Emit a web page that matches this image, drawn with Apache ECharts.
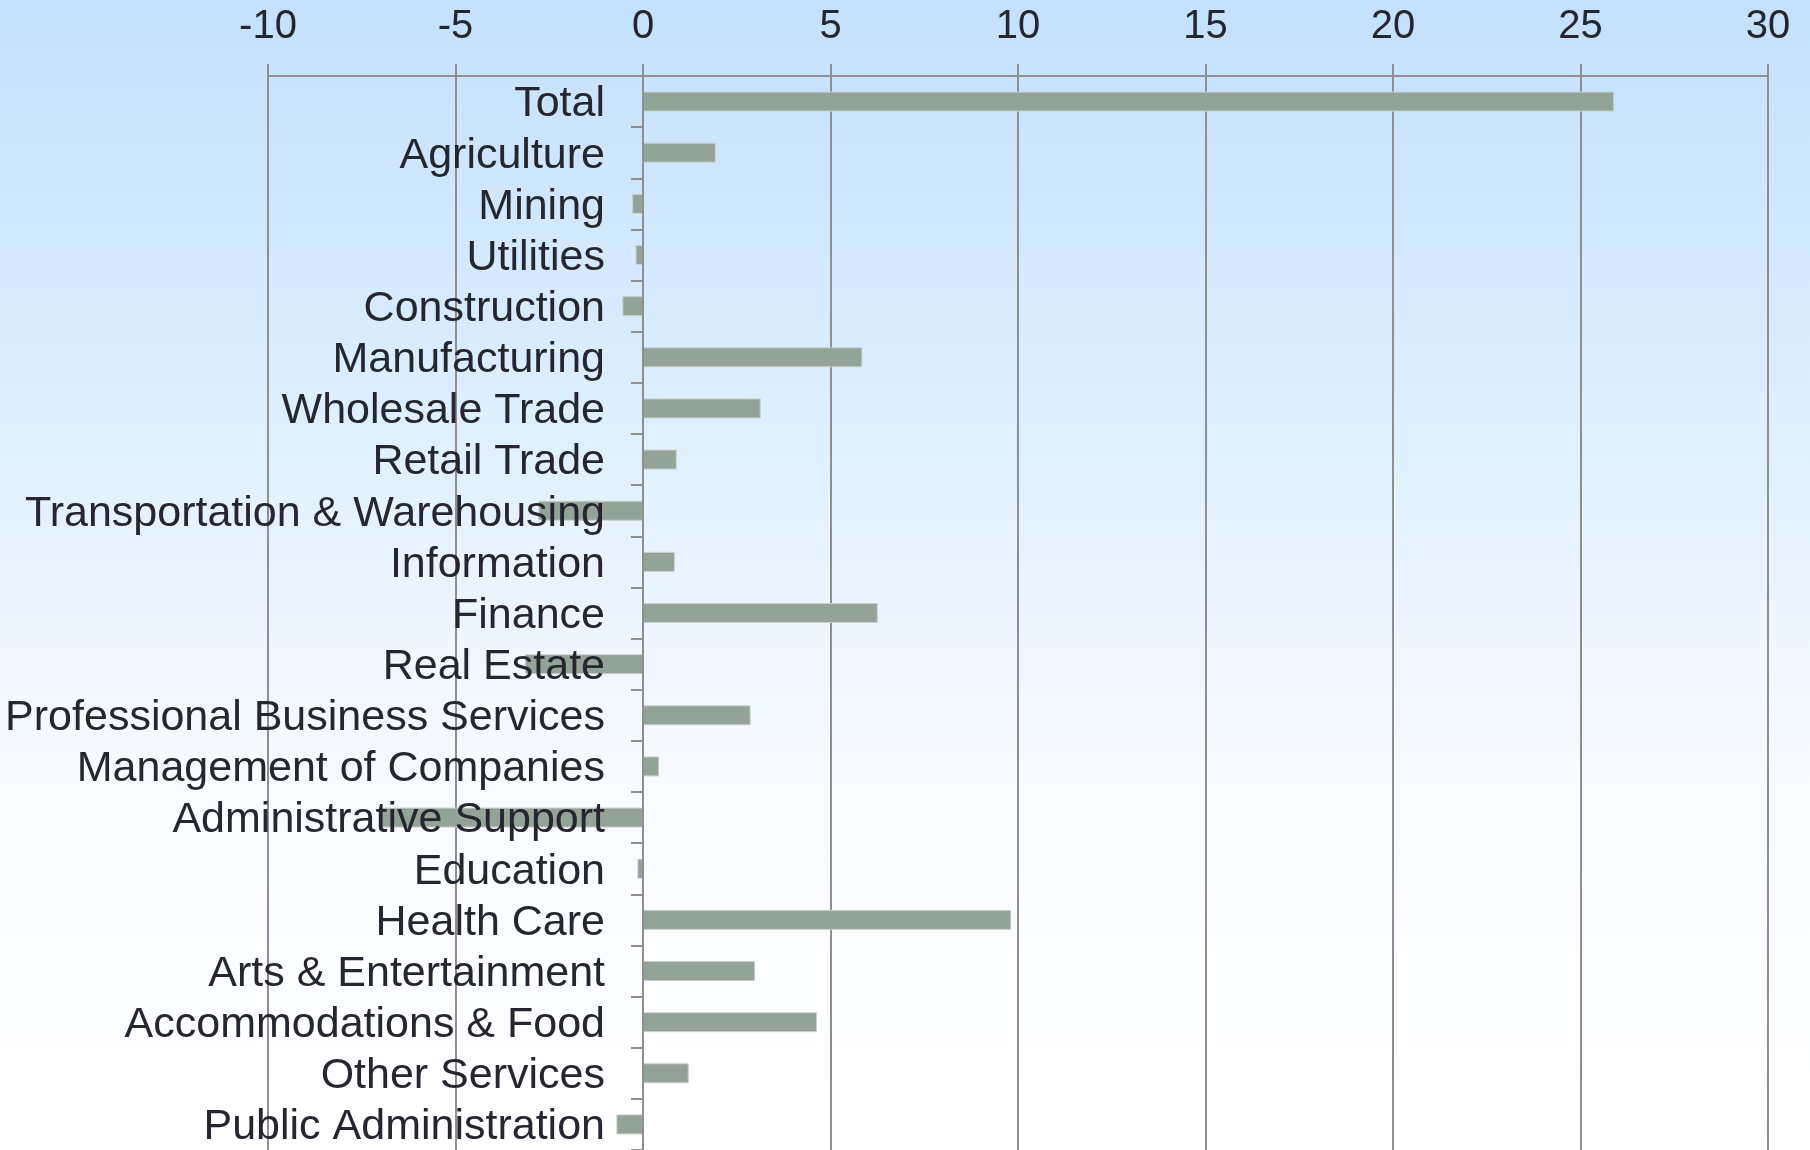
<!DOCTYPE html>
<html>
<head>
<meta charset="utf-8">
<script src="https://cdn.jsdelivr.net/npm/echarts@6/dist/echarts.min.js"></script>
<style>
html,body{margin:0;padding:0;width:1810px;height:1150px;overflow:hidden;}
#chart{width:1810px;height:1150px;}
</style>
</head>
<body>
<div id="chart"></div>
<script>
const categories = ["Total","Agriculture","Mining","Utilities","Construction","Manufacturing","Wholesale Trade","Retail Trade","Transportation & Warehousing","Information","Finance","Real Estate","Professional Business Services","Management of Companies","Administrative Support","Education","Health Care","Arts & Entertainment","Accommodations & Food","Other Services","Public Administration"];
const values = [25.9,1.94,-0.29,-0.2,-0.55,5.85,3.14,0.9,-2.79,0.85,6.26,-3.15,2.87,0.43,-6.99,-0.15,9.82,2.99,4.64,1.22,-0.71];
const xMin = -10, xMax = 30, xStep = 5;

const FONT = "'Liberation Sans', Arial, sans-serif";
const chart = echarts.init(document.getElementById('chart'));
chart.setOption({
  animation: false,
  backgroundColor: new echarts.graphic.LinearGradient(0,0,0,1,[
    {offset:0,color:'#c3e1fd'},
    {offset:0.35,color:'#ddeefe'},
    {offset:0.68,color:'#f8fbff'},
    {offset:1,color:'#ffffff'}
  ]),
  grid: {left:268, right:42, top:76, bottom:0, containLabel:false, outerBoundsMode:'none'},
  xAxis: {
    type:'value', position:'top', min:xMin, max:xMax, interval:xStep,
    axisLine:{show:true, lineStyle:{color:'#8f8f8f', width:2}},
    axisTick:{show:true, length:12, lineStyle:{color:'#8f8f8f', width:2}},
    splitLine:{show:true, lineStyle:{color:'#8f8f8f', width:2}},
    axisLabel:{fontFamily:FONT, fontSize:40, color:'#262630', margin:29}
  },
  yAxis: {
    type:'category', inverse:true, data:categories, z:10,
    axisLine:{show:true, onZero:true, lineStyle:{color:'#8f8f8f', width:2}},
    axisTick:{show:true, length:12, interval:0, lineStyle:{color:'#8f8f8f', width:2}},
    axisLabel:{fontFamily:FONT, fontSize:43, color:'#262630', margin:-337, interval:0, hideOverlap:false,
      formatter: v => '{a|' + v + '}',
      rich:{a:{fontFamily:FONT, fontSize:43, color:'#262630', lineHeight:43, padding:[6,0,0,0]}}}
  },
  series: [{
    type:'bar', data:values, barWidth:20, z:2,
    itemStyle:{color:'#93a398', borderColor:'#c9d2cc', borderWidth:1}
  }]
});
</script>
</body>
</html>
